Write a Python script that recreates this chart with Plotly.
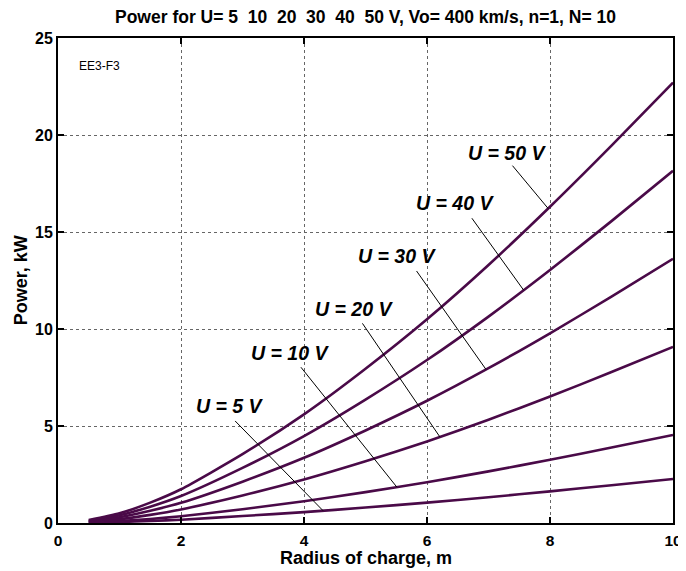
import numpy as np
import plotly.graph_objects as go

# radius of charge, m
radius = [0.5, 1, 1.5, 2, 3, 4, 5, 6, 7, 8, 9, 10]

# power, kW for each voltage
p_5v = [0.015, 0.05, 0.105, 0.17, 0.36, 0.56, 0.80, 1.05, 1.33, 1.63, 1.95, 2.27]
p_10v = [0.03, 0.10, 0.21, 0.35, 0.71, 1.12, 1.59, 2.10, 2.66, 3.26, 3.89, 4.54]
p_20v = [0.06, 0.20, 0.42, 0.70, 1.42, 2.24, 3.18, 4.20, 5.32, 6.52, 7.78, 9.08]
p_30v = [0.09, 0.30, 0.63, 1.04, 2.13, 3.36, 4.77, 6.30, 7.98, 9.78, 11.67, 13.62]
p_40v = [0.12, 0.40, 0.84, 1.39, 2.84, 4.48, 6.36, 8.40, 10.64, 13.04, 15.56, 18.16]
p_50v = [0.15, 0.50, 1.05, 1.74, 3.55, 5.60, 7.95, 10.50, 13.30, 16.30, 19.45, 22.70]

voltages = [5, 10, 20, 30, 40, 50]
curves = [p_5v, p_10v, p_20v, p_30v, p_40v, p_50v]

# label placement: text centre (x, y), pointer start (x, y), pointer end x on the curve
label_text_pos = [(2.79, 6.03), (3.78, 8.75), (4.81, 11.03), (5.51, 13.76), (6.46, 16.49), (7.30, 19.07)]
pointer_start = [(2.88, 5.26), (3.95, 8.03), (4.95, 10.29), (5.83, 12.99), (6.73, 15.71), (7.39, 18.42)]
pointer_end_x = [4.31, 5.51, 6.21, 6.96, 7.57, 7.97]

LINE_COLOR = '#4a0a48'
FONT = 'Liberation Sans, Arial, sans-serif'

fig = go.Figure()
for u, p in zip(voltages, curves):
    fig.add_trace(
        go.Scatter(
            x=radius, y=p, mode='lines', name=f'U = {u} V',
            line=dict(color=LINE_COLOR, width=2.6, shape='spline', smoothing=0.6),
        )
    )

for u, p, (tx, ty), (sx, sy), ex in zip(voltages, curves, label_text_pos, pointer_start, pointer_end_x):
    ey = float(np.interp(ex, radius, p))
    fig.add_shape(type='line', xref='x', yref='y', x0=sx, y0=sy, x1=ex, y1=ey,
                  line=dict(color='black', width=1))
    fig.add_annotation(x=tx, y=ty, xref='x', yref='y', text=f'<b><i>U = {u} V</i></b>',
                       xanchor='center', yanchor='middle',
                       showarrow=False, font=dict(size=19.5, color='black', family=FONT))

fig.add_annotation(x=0.31, y=23.57, xref='x', yref='y', text='EE3-F3', xanchor='left', yanchor='middle',
                   showarrow=False, font=dict(size=12, color='black', family=FONT))

nb = '\u00a0'
title = f'Power for U= 5{nb}{nb}10{nb}{nb}20{nb}{nb}30{nb}{nb}40{nb}{nb}50 V, Vo= 400 km/s, n=1, N= 10'
fig.add_annotation(x=0.5, y=1.043, xref='paper', yref='paper', text=f'<b>{title}</b>',
                   xanchor='center', yanchor='middle',
                   showarrow=False, font=dict(size=17.5, color='black', family=FONT))
fig.add_annotation(x=0.5, y=-0.073, xref='paper', yref='paper', text='<b>Radius of charge, m</b>',
                   xanchor='center', yanchor='middle',
                   showarrow=False, font=dict(size=18, color='black', family=FONT))
fig.add_annotation(x=-0.0607, y=0.5, xref='paper', yref='paper', text='<b>Power, kW</b>', textangle=-90,
                   xanchor='center', yanchor='middle',
                   showarrow=False, font=dict(size=18, color='black', family=FONT))

axis_common = dict(
    showline=True, linewidth=2, linecolor='black', mirror='ticks',
    ticks='inside', ticklen=6, tickwidth=2, tickcolor='black',
    showgrid=True, gridcolor='#666666', griddash='dot', gridwidth=1,
    zeroline=False, automargin=False,
    tickfont=dict(size=16, color='black', family=FONT),
)

# page body keeps its default 8px margin, so the figure is trimmed by that much
fig.update_layout(
    width=678, height=563,
    margin=dict(l=50, r=13, t=30, b=48),
    paper_bgcolor='white', plot_bgcolor='white',
    showlegend=False,
    font=dict(family=FONT, color='black'),
    xaxis=dict(range=[0, 10], dtick=2, tickprefix='<b>', ticksuffix='</b>', ticklabelstandoff=2,
               **axis_common),
    yaxis=dict(range=[0, 25], dtick=5, tickprefix='<b>', ticksuffix='</b>', **axis_common),
)
fig.update_xaxes(tickfont=dict(size=15.5))

fig.write_html('out.html')
